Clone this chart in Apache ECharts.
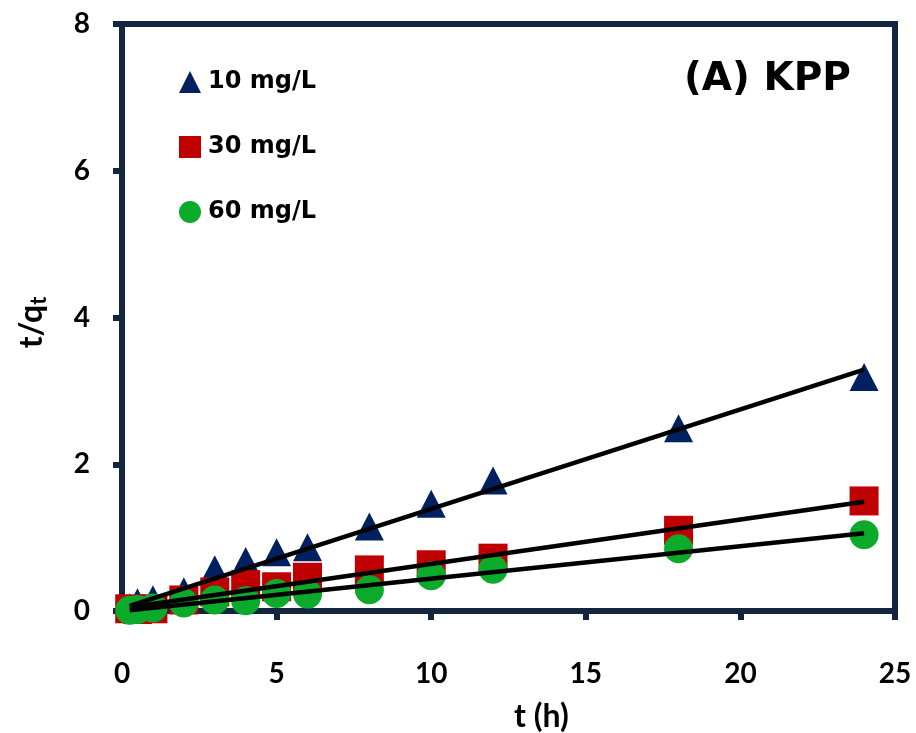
<!DOCTYPE html>
<html>
<head>
<meta charset="utf-8">
<title>Pseudo-second-order kinetics – KPP</title>
<script src="https://cdn.jsdelivr.net/npm/echarts@6/dist/echarts.min.js"></script>
<style>
  html, body { margin: 0; padding: 0; background: #ffffff; }
  #chart { width: 916px; height: 733px; }
</style>
</head>
<body>
<div id="chart"></div>
<script>
// Contact times (h)
const times = [0.25, 0.5, 1, 2, 3, 4, 5, 6, 8, 10, 12, 18, 24];
// t/qt for each initial concentration
const q10 = [0.05, 0.12, 0.16, 0.27, 0.57, 0.68, 0.80, 0.87, 1.15, 1.46, 1.78, 2.49, 3.19];
const q30 = [0.03, 0.02, 0.03, 0.15, 0.26, 0.36, 0.33, 0.46, 0.56, 0.63, 0.72, 1.10, 1.50];
const q60 = [0.01, 0.02, 0.04, 0.11, 0.15, 0.14, 0.24, 0.23, 0.29, 0.48, 0.57, 0.85, 1.04];
// Linear fit end points
const fitT = [0.25, 24];
const fit10 = [0.07, 3.29];
const fit30 = [0.05, 1.49];
const fit60 = [0.01, 1.06];
// Axis ticks
const xTicks = [0, 5, 10, 15, 20, 25];
const yTicks = [0, 2, 4, 6, 8];
const seriesNames = ['10 mg/L', '30 mg/L', '60 mg/L'];

const AXIS = '#13253f';
const NAVY = '#002060';
const RED = '#c00000';
const GREEN = '#0baa2a';

const pairs = (xs, ys) => xs.map((x, i) => [x, ys[i]]);

const chart = echarts.init(document.getElementById('chart'), null, { renderer: 'canvas' });

const axisCommon = {
  type: 'value',
  splitLine: { show: false },
  axisLine: { show: true, onZero: false, lineStyle: { color: AXIS, width: 6 } },
  axisTick: { show: true, inside: false, length: 9, lineStyle: { color: AXIS, width: 6 } },
  axisLabel: { color: '#000', fontFamily: 'Lato', fontWeight: 'bold', fontSize: 28 }
};

chart.setOption({
  animation: false,
  backgroundColor: '#ffffff',
  grid: {
    left: 122, right: 21, top: 24, bottom: 122,
    outerBoundsMode: 'none',
    containLabel: false,
    show: true, borderColor: AXIS, borderWidth: 6, backgroundColor: 'transparent'
  },
  title: {
    text: '(A) KPP',
    left: 679, top: 55,
    textStyle: { fontFamily: 'DejaVu Sans', fontWeight: 'bold', fontSize: 39, color: '#000' }
  },
  legend: {
    data: seriesNames,
    orient: 'vertical',
    left: 179, top: 70,
    padding: 0,
    itemWidth: 22, itemHeight: 22, itemGap: 41,
    textStyle: { fontFamily: 'DejaVu Sans', fontWeight: 'bold', fontSize: 24, color: '#000', padding: [0, 0, 0, 2] }
  },
  xAxis: Object.assign({}, axisCommon, {
    min: xTicks[0], max: xTicks[xTicks.length - 1], interval: xTicks[1] - xTicks[0],
    name: 't (h)', nameLocation: 'middle', nameGap: 90,
    nameTextStyle: { fontFamily: 'Lato', fontWeight: 'bold', fontSize: 32, color: '#000', padding: [0, 0, 0, 66] },
    axisLabel: Object.assign({}, axisCommon.axisLabel, { margin: 49 })
  }),
  yAxis: Object.assign({}, axisCommon, {
    min: yTicks[0], max: yTicks[yTicks.length - 1], interval: yTicks[1] - yTicks[0],
    name: '{a|t/q}{b|t}', nameLocation: 'middle', nameGap: 72,
    nameTextStyle: {
      color: '#000',
      padding: [0, 10, 0, 0],
      rich: {
        a: { fontFamily: 'Lato', fontWeight: 'bold', fontSize: 32, color: '#000' },
        b: { fontFamily: 'Lato', fontWeight: 'bold', fontSize: 22, color: '#000', padding: [14, 0, 0, 0] }
      }
    },
    axisLabel: Object.assign({}, axisCommon.axisLabel, { margin: 32 })
  }),
  series: [
    {
      name: seriesNames[0], type: 'scatter', symbol: 'triangle', symbolSize: [29, 28],
      itemStyle: { color: NAVY, opacity: 1 }, data: pairs(times, q10), z: 2
    },
    {
      name: seriesNames[1], type: 'scatter', symbol: 'rect', symbolSize: 29,
      itemStyle: { color: RED, opacity: 1 }, data: pairs(times, q30), z: 3
    },
    {
      name: seriesNames[2], type: 'scatter', symbol: 'circle', symbolSize: 29,
      itemStyle: { color: GREEN, opacity: 1 }, data: pairs(times, q60), z: 4
    },
    {
      name: 'fit10', type: 'line', showSymbol: false, symbol: 'none', silent: true, z: 6,
      lineStyle: { color: '#000', width: 4.5 }, data: pairs(fitT, fit10)
    },
    {
      name: 'fit30', type: 'line', showSymbol: false, symbol: 'none', silent: true, z: 6,
      lineStyle: { color: '#000', width: 4.5 }, data: pairs(fitT, fit30)
    },
    {
      name: 'fit60', type: 'line', showSymbol: false, symbol: 'none', silent: true, z: 6,
      lineStyle: { color: '#000', width: 4.5 }, data: pairs(fitT, fit60)
    }
  ]
});
</script>
</body>
</html>
